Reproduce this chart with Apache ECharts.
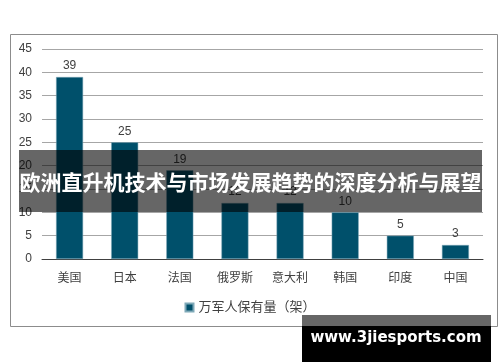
<!DOCTYPE html>
<html><head><meta charset="utf-8">
<script src="https://cdn.jsdelivr.net/npm/echarts@6/dist/echarts.min.js"></script>
<style>html,body{margin:0;padding:0;background:#fff}#c{width:500px;height:362px}</style>
</head><body><div id="c"></div>
<script>
const categories = ['美国','日本','法国','俄罗斯','意大利','韩国','印度','中国'];
const values = [39, 25, 19, 12, 12, 10, 5, 3];
const seriesName = '万军人保有量（架）';
const yTicks = {min: 0, max: 45, interval: 5};
const bannerText = '欧洲直升机技术与市场发展趋势的深度分析与展望';
const watermarkText = 'www.3jiesports.com';

const FF = '"Liberation Sans", "Noto Sans CJK SC", sans-serif';
const chart = echarts.init(document.getElementById('c'), null, {renderer: 'canvas'});
chart.setOption({
  animation: false,
  textStyle: {fontFamily: FF},
  grid: {left: 42, right: 17, top: 49, bottom: 103},
  legend: {
    data: [seriesName], bottom: 43, left: 'center',
    icon: 'rect', itemWidth: 8, itemHeight: 8, itemGap: 4,
    textStyle: {fontSize: 13, color: '#404040', fontFamily: FF}
  },
  xAxis: {
    type: 'category', data: categories,
    axisLine: {lineStyle: {color: '#404040', width: 1}},
    axisTick: {show: false},
    axisLabel: {color: '#404040', fontSize: 12, margin: 14, fontFamily: FF}
  },
  yAxis: {
    type: 'value', min: yTicks.min, max: yTicks.max, interval: yTicks.interval,
    axisLine: {show: false}, axisTick: {show: false},
    axisLabel: {color: '#404040', fontSize: 12, margin: 10, fontFamily: FF},
    splitLine: {lineStyle: {color: '#a6a6a6', width: 1}}
  },
  series: [{
    name: seriesName, type: 'bar', data: values,
    barWidth: 27,
    itemStyle: {color: '#00506b', borderColor: '#7fa9b8', borderWidth: 0.5},
    label: {show: true, position: 'top', color: '#404040', fontSize: 12, distance: 5, fontFamily: FF}
  }],
  graphic: [
    {type: 'rect', z: 50, shape: {x: 10.5, y: 34.5, width: 487, height: 292},
     style: {fill: 'none', stroke: '#8c8c8c', lineWidth: 1}},
    {type: 'rect', z: 100, shape: {x: 19, y: 150, width: 463, height: 62},
     style: {fill: 'rgba(0,0,0,0.6)'}},
    {type: 'text', z: 101, x: 250.5, y: 182,
     style: {text: bannerText, fill: '#fff', font: 'bold 21px "Noto Sans CJK SC", sans-serif',
             textAlign: 'center', textVerticalAlign: 'middle'}},
    {type: 'rect', z: 100, shape: {x: 302, y: 315, width: 189, height: 11},
     style: {fill: 'rgba(0,0,0,0.6)'}},
    {type: 'rect', z: 100, shape: {x: 302, y: 326, width: 189, height: 36},
     style: {fill: '#000'}},
    {type: 'text', z: 101, x: 396, y: 338,
     style: {text: watermarkText, fill: '#fff', font: 'bold 15px "DejaVu Sans", sans-serif',
             textAlign: 'center', textVerticalAlign: 'middle'}}
  ]
});
</script></body></html>
